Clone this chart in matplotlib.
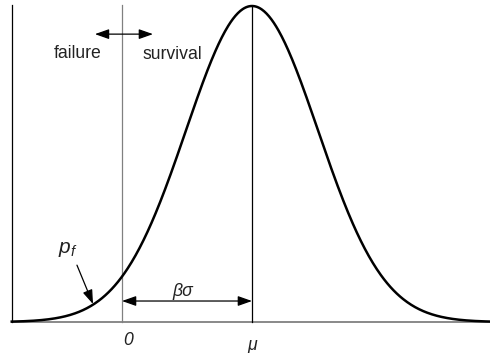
import numpy as np
import matplotlib
matplotlib.use("Agg")
import matplotlib.pyplot as plt

# Parameters of the depicted normal distribution (in units of sigma)
mu = 1.97          # mean (beta * sigma from the limit state 0)
sigma = 1.0
x_start = -1.67
x_end = 5.58

# Annotation labels
label_fail = "failure"
label_surv = "survival"
label_beta = "βσ"
label_pf = r"$p_f$"
tick_labels = ["0", "μ"]
tick_pos = [0.0, mu]

plt.rcParams["font.family"] = ["Liberation Sans", "DejaVu Sans"]
plt.rcParams["mathtext.fontset"] = "custom"
plt.rcParams["mathtext.it"] = "Liberation Sans:italic"
plt.rcParams["mathtext.rm"] = "Liberation Sans"

fig = plt.figure(figsize=(4.9, 3.53), dpi=100)
ax = fig.add_axes([0, 0, 1, 1])
ax.set_xlim(-1.848, 5.576)
ax.set_ylim(-0.098, 1.019)
ax.axis("off")

x = np.linspace(x_start, x_end, 600)
y = np.exp(-0.5 * ((x - mu) / sigma) ** 2)

fs = 12.7
gray = "#808080"
txtc = "#222222"

# baseline and left axis
ax.plot([x_start, x_end], [0, 0], color=gray, lw=1.3, zorder=1)
ax.plot([x_start, x_start], [0, 1.003], color="black", lw=0.9, zorder=1)
# limit-state line and mean line
ax.plot([0, 0], [0, 1.003], color=gray, lw=0.9, zorder=1)
ax.plot([mu, mu], [0, 1.0], color="black", lw=0.9, zorder=1)

# curve
ax.plot(x, y, color="black", lw=1.8, zorder=3)

astyle = "<|-|>,head_length=0.85,head_width=0.3"
# failure / survival arrow
ax.annotate("", xy=(-0.41, 0.911), xytext=(0.47, 0.911),
            arrowprops=dict(arrowstyle=astyle, color="black", lw=0.9,
                            shrinkA=0, shrinkB=0))
ax.text(-0.667, 0.851, label_fail, ha="center", va="center", fontsize=fs,
        color=txtc)
ax.text(0.758, 0.845, label_surv, ha="center", va="center", fontsize=fs,
        color=txtc)

# beta sigma arrow
ax.annotate("", xy=(0, 0.0665), xytext=(mu, 0.0665),
            arrowprops=dict(arrowstyle=astyle, color="black", lw=0.9,
                            shrinkA=0, shrinkB=0))
ax.text(0.924, 0.098, label_beta, ha="center", va="center", fontsize=fs,
        style="italic", color=txtc)

# p_f annotation
ax.annotate("", xy=(-0.439, 0.057), xytext=(-0.682, 0.18),
            arrowprops=dict(arrowstyle="-|>,head_length=0.85,head_width=0.3",
                            color="black", lw=0.9, shrinkA=0, shrinkB=0))
ax.text(-0.818, 0.231, label_pf, ha="center", va="center", fontsize=15,
        color=txtc)

# tick labels
for lab, p, dy in zip(tick_labels, tick_pos, [-0.057, -0.073]):
    ax.text(p + (0.09 if lab == "0" else 0.0), dy, lab, ha="center",
            va="center", fontsize=fs, style="italic", color=txtc)

fig.savefig("out.png", dpi=100)
